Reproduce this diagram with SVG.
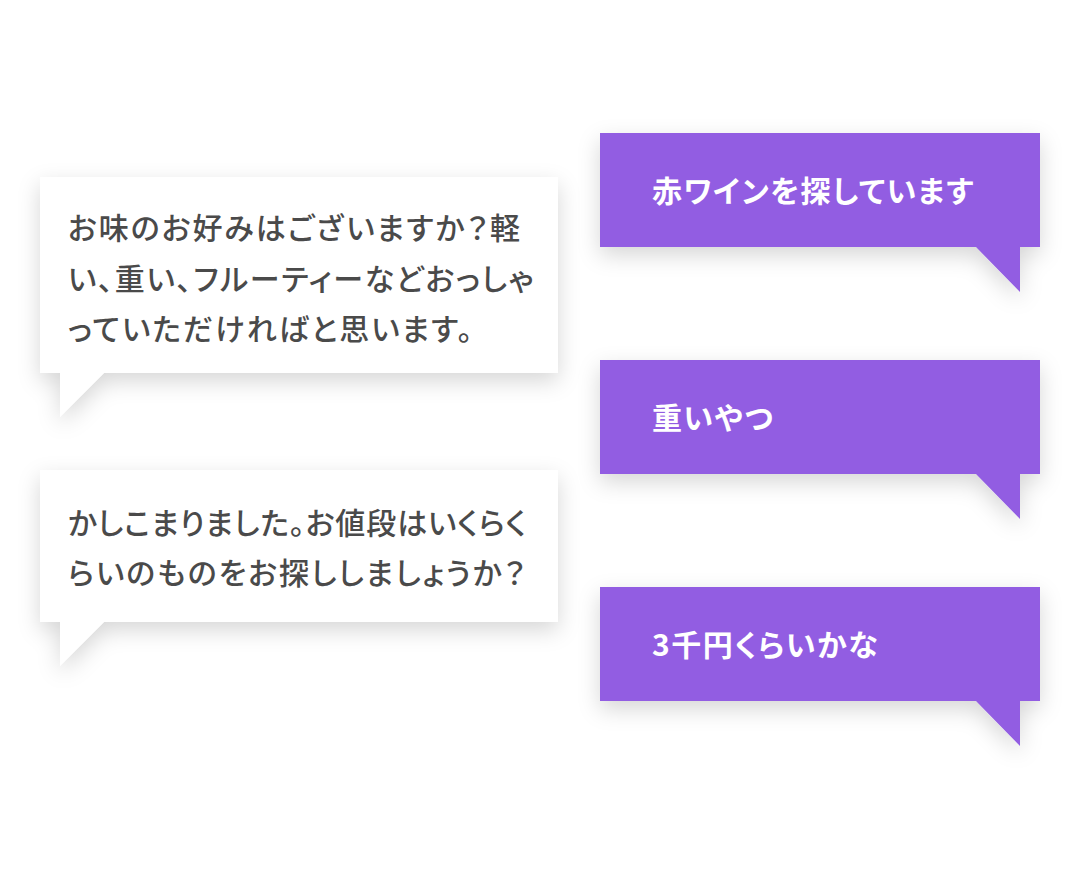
<svg xmlns="http://www.w3.org/2000/svg" width="1080" height="880" viewBox="0 0 1080 880">
<defs>
<filter id="sh" x="-20%" y="-40%" width="140%" height="180%">
<feDropShadow dx="0" dy="8" stdDeviation="11" flood-color="#000" flood-opacity="0.16"/>
</filter>
</defs>
<style>
.w{fill:#ffffff;filter:url(#sh)}
.p{fill:#925de2;filter:url(#sh)}
.t{font-family:"Noto Sans CJK JP","Noto Sans",sans-serif;font-size:30px;font-weight:500;fill:#4a4a4a;font-feature-settings:"palt";letter-spacing:2px}
.pt{font-family:"Noto Sans CJK JP","Noto Sans",sans-serif;font-size:30px;font-weight:bold;fill:#ffffff;font-feature-settings:"palt";letter-spacing:1.5px}
</style>
<rect width="1080" height="880" fill="#ffffff"/>
<g id="bubble-left-1">
<path class="w" d="M40 177H558V373H104L60 417V373H40Z"/>
<text class="t" x="68" y="239">お味のお好みはございますか？軽</text>
<text class="t" x="68" y="290" style="letter-spacing:1.75px">い、重い、フルーティーなどおっしゃ</text>
<text class="t" x="68" y="340">っていただければと思います。</text>
</g>
<g id="bubble-left-2">
<path class="w" d="M40 470H558V622H104L60 666V622H40Z"/>
<text class="t" x="68" y="534" style="letter-spacing:0.9px">かしこまりました。お値段はいくらく</text>
<text class="t" x="68" y="584">らいのものをお探ししましょうか？</text>
</g>
<g id="bubble-right-1">
<path class="p" d="M600 133H1040V247H1020V292L976 247H600Z"/>
<text class="pt" x="652" y="202">赤ワインを探しています</text>
</g>
<g id="bubble-right-2">
<path class="p" d="M600 360H1040V474H1020V519L976 474H600Z"/>
<text class="pt" x="652" y="429">重いやつ</text>
</g>
<g id="bubble-right-3">
<path class="p" d="M600 587H1040V701H1020V746L976 701H600Z"/>
<text class="pt" x="652" y="656">3千円くらいかな</text>
</g>
<g id="connectors"/>
</svg>
